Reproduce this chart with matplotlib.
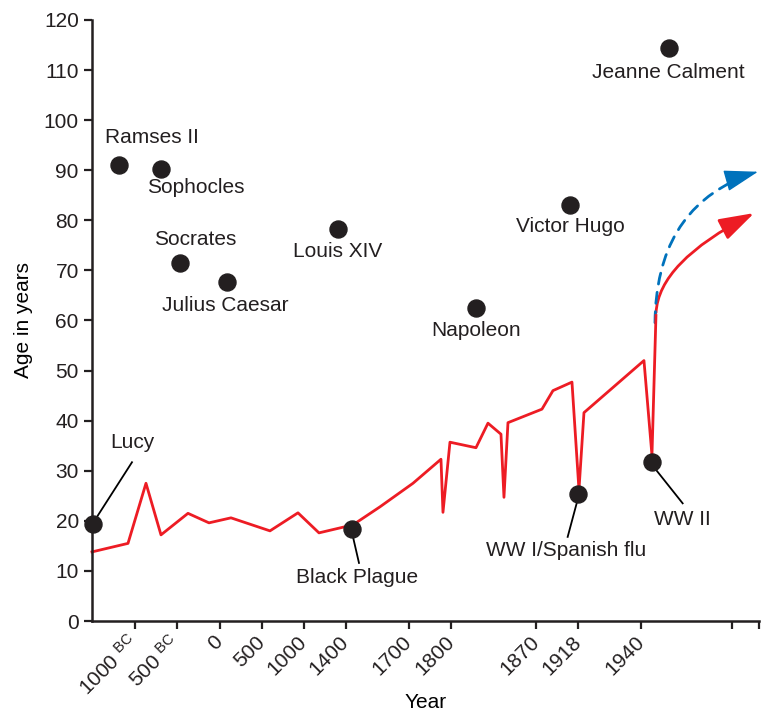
import matplotlib
matplotlib.use("Agg")
import matplotlib.pyplot as plt
from matplotlib.patches import FancyArrowPatch

plt.rcParams['font.family'] = ['Liberation Sans', 'DejaVu Sans']
plt.rcParams['mathtext.fontset'] = 'custom'
plt.rcParams['mathtext.rm'] = 'Liberation Sans'

# x axis is not linear in years: positions of the labelled ticks
tick_pos = [43, 85, 128, 170, 212, 254, 317, 359.5, 444, 486, 549, 640, 667]
tick_labels = [r"1000 $\mathregular{^{BC}}$", r"500 $\mathregular{^{BC}}$", "0", "500", "1000",
               "1400", "1700", "1800", "1870", "1918", "1940", "", ""]

# life expectancy curve (red)
life_x = [0, 36, 54, 69, 96, 117, 139, 178, 206, 227, 261, 288, 321, 349, 351, 358,
          384, 396, 409, 412, 416, 450, 461, 480, 487, 492, 552, 560, 564]
life_y = [13.8, 15.5, 27.5, 17.2, 21.5, 19.6, 20.6, 18.0, 21.6, 17.6, 19.2, 22.8, 27.5,
          32.3, 21.7, 35.7, 34.6, 39.5, 37.3, 24.7, 39.6, 42.3, 46.0, 47.7, 26.2, 41.6,
          52.0, 33.1, 61.0]

# famous people
people = ["Ramses II", "Sophocles", "Socrates", "Julius Caesar", "Louis XIV",
          "Napoleon", "Victor Hugo", "Jeanne Calment"]
people_x = [27, 69, 88, 135, 246, 384, 478, 577]
people_y = [91.0, 90.3, 71.5, 67.7, 78.3, 62.5, 83.0, 114.4]
people_lx = [60, 104, 103, 133, 246, 384, 478, 576]
people_ly = [96.5, 86.5, 76.1, 62.9, 73.7, 58.1, 78.7, 109.6]

# events on the curve
events = ["Lucy", "Black Plague", "WW I/Spanish flu", "WW II"]
events_x = [1, 260, 486, 560]
events_y = [19.4, 18.4, 25.4, 31.7]
events_lx = [40, 265, 474, 590]
events_ly = [35.7, 8.6, 14.0, 20.2]
lead_start = [(5, 20.8), (261, 16.8), (484.7, 23.5), (564, 30.2)]
lead_end = [(40, 31.7), (267, 11.6), (475.7, 16.8), (590.7, 23.5)]

RED = '#ed1c24'
BLUE = '#0072bc'
DOT = '#231f20'
FS = 15

fig = plt.figure(figsize=(7.64, 7.13), dpi=100)
ax = fig.add_axes([0.1204, 0.129, 0.873, 0.843])

ax.plot(life_x, life_y, color=RED, lw=2.0, zorder=2, clip_on=False)

# projections after 1940
head = "-|>,head_length=1.2,head_width=0.38"
ax.add_patch(FancyArrowPatch((564, 61), (664.7, 81.7),
                             connectionstyle="angle3,angleA=90,angleB=27",
                             arrowstyle=head, mutation_scale=18, color=RED, lw=2.0,
                             clip_on=False))
# dashed body, then a solid head so its outline is not dashed
ax.add_patch(FancyArrowPatch((563, 59), (666, 89.7),
                             connectionstyle="angle3,angleA=90,angleB=17",
                             arrowstyle="-", shrinkB=12, color=BLUE, lw=2.0,
                             ls=(0, (4, 3)), clip_on=False))
ax.add_patch(FancyArrowPatch((650, 88.8), (666, 89.7), arrowstyle=head,
                             mutation_scale=18, color=BLUE, lw=1.0, shrinkA=0,
                             shrinkB=0, clip_on=False))

for (x0, y0), (x1, y1) in zip(lead_start, lead_end):
    ax.plot([x0, x1], [y0, y1], color='black', lw=1.3, zorder=3)

ax.scatter(people_x + events_x, people_y + events_y, s=150, color=DOT, zorder=4,
           clip_on=False)

for name, x, y in zip(people + events, people_lx + events_lx, people_ly + events_ly):
    ax.text(x, y, name, fontsize=FS, ha='center', va='center', color='#231f20')

ax.set_xlim(0, 667)
ax.set_ylim(0, 120)
ax.set_yticks(range(0, 121, 10))
ax.set_xticks(tick_pos)
ax.set_xticklabels(tick_labels, rotation=45, ha='right', va='center',
                   rotation_mode='anchor')
ax.tick_params(axis='both', labelsize=FS, direction='out', length=6, width=1.6,
               colors='#231f20')
ax.tick_params(axis='x', pad=7)
for side in ['top', 'right']:
    ax.spines[side].set_visible(False)
for side in ['left', 'bottom']:
    ax.spines[side].set_linewidth(1.8)
    ax.spines[side].set_color('#231f20')

ax.set_ylabel("Age in years", fontsize=FS, labelpad=8)
ax.set_xlabel("Year", fontsize=FS)
ax.xaxis.label.set_verticalalignment('center')
ax.xaxis.set_label_coords(0.5, -0.136)

fig.savefig("out.png", dpi=100)
